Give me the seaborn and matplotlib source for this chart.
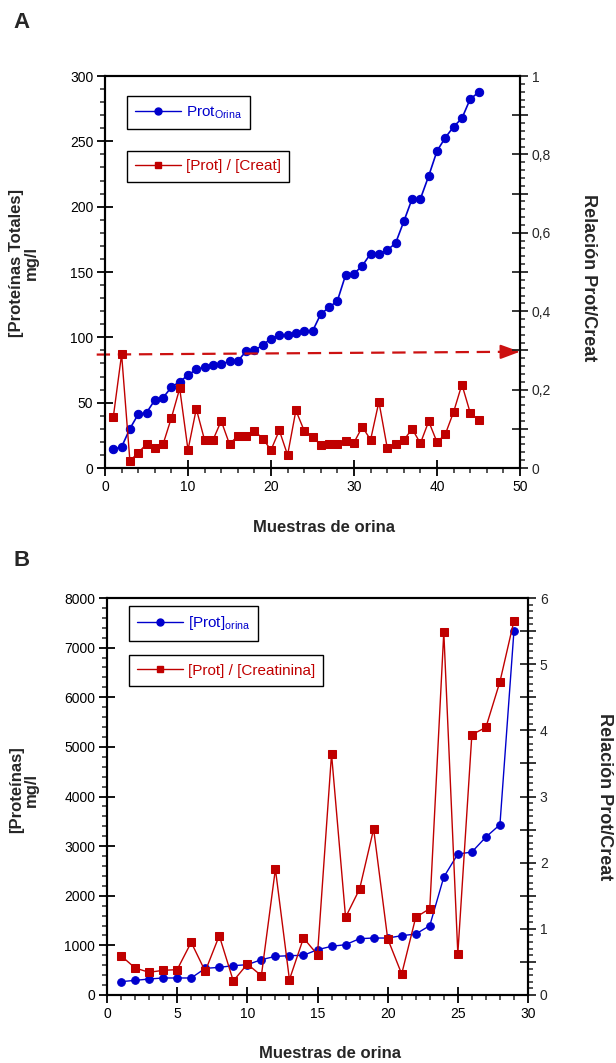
import matplotlib

matplotlib.use("Agg")
import matplotlib.pyplot as plt
import seaborn as sns
from matplotlib.lines import Line2D
from matplotlib.ticker import FuncFormatter, MultipleLocator

sns.set_style("ticks")
plt.rcParams["font.family"] = ["Liberation Sans", "DejaVu Sans"]
plt.rcParams["mathtext.default"] = "regular"

BLUE = "#0000cc"
RED = "#c00000"

# Panel A: total protein (mg/l) and protein/creatinine ratio, 45 samples
samples_a = list(range(1, 46))
prot_a = [14.4, 16.1, 30.1, 41.1, 42.3, 52.0, 53.8, 61.9, 66.0, 71.1,
          75.4, 77.2, 78.7, 79.3, 81.8, 81.8, 89.4, 90.0, 94.0, 99.1,
          101.6, 101.6, 103.4, 104.7, 104.7, 117.9, 122.9, 128.0, 147.9, 148.7,
          154.8, 164.0, 164.0, 166.8, 171.9, 188.7, 206.0, 206.0, 223.5, 242.6,
          252.8, 261.2, 267.6, 282.4, 287.4]
ratio_a = [0.130, 0.290, 0.018, 0.039, 0.061, 0.050, 0.061, 0.128, 0.203, 0.046,
           0.151, 0.071, 0.071, 0.120, 0.061, 0.082, 0.082, 0.095, 0.075, 0.046,
           0.096, 0.033, 0.147, 0.095, 0.080, 0.058, 0.061, 0.061, 0.069, 0.065,
           0.105, 0.072, 0.169, 0.052, 0.061, 0.071, 0.100, 0.063, 0.119, 0.066,
           0.086, 0.143, 0.213, 0.141, 0.122]
# dashed reference line (left-axis units) from start to arrow tip
ref_line_x = [-1, 50]
ref_line_y = [86.8, 89.0]

# Panel B: protein (mg/l) and protein/creatinine ratio, 29 samples
samples_b = list(range(1, 30))
prot_b = [269, 295, 322, 343, 343, 343, 537, 557, 591, 611,
          712, 779, 792, 800, 913, 981, 1014, 1135, 1148, 1148,
          1195, 1229, 1397, 2377, 2841, 2881, 3183, 3432, 7341]
ratio_b = [0.594, 0.408, 0.343, 0.373, 0.383, 0.796, 0.358, 0.897, 0.212, 0.468,
           0.292, 1.904, 0.232, 0.861, 0.610, 3.642, 1.174, 1.602, 2.509, 0.851,
           0.317, 1.174, 1.305, 5.485, 0.625, 3.934, 4.045, 4.735, 5.657]


def comma(v, _pos):
    s = f"{v:g}"
    return s.replace(".", ",")


def style_axes(ax, ax2):
    for a in (ax, ax2):
        for sp in a.spines.values():
            sp.set_linewidth(1.5)
            sp.set_color("black")
    ax.tick_params(axis="both", which="major", direction="inout", length=11,
                   width=1.3, labelsize=10, pad=3, colors="black")
    ax.tick_params(axis="both", which="minor", direction="out", length=3.5, width=1.1)
    ax.tick_params(top=False, right=False, which="both")
    ax2.tick_params(axis="y", which="major", direction="inout", length=11,
                    width=1.3, labelsize=10, pad=3)
    ax2.tick_params(axis="y", which="minor", direction="out", length=3.5, width=1.1)


def add_legends(ax2, prot_label, ratio_label, y1, y2, x0):
    h_prot = Line2D([], [], color=BLUE, marker="o", markersize=5, lw=1)
    h_ratio = Line2D([], [], color=RED, marker="s", markersize=5, lw=1)
    common = dict(loc="upper left", frameon=True, fancybox=False, borderaxespad=0,
                  handlelength=3.0, handletextpad=0.3, fontsize=11,
                  labelcolor="linecolor", edgecolor="black", framealpha=1,
                  borderpad=0.55)
    leg1 = ax2.legend(handles=[h_prot], labels=[prot_label],
                      bbox_to_anchor=(x0, y1), **common)
    leg1.get_frame().set_linewidth(1.0)
    ax2.add_artist(leg1)
    leg2 = ax2.legend(handles=[h_ratio], labels=[ratio_label],
                      bbox_to_anchor=(x0, y2), **common)
    leg2.get_frame().set_linewidth(1.0)


fig = plt.figure(figsize=(6.16, 10.63), dpi=100)

# ---------- Panel A ----------
ax = fig.add_axes([105 / 616, 1 - 468 / 1063, 415 / 616, 392 / 1063])
ax2 = ax.twinx()
sns.lineplot(x=samples_a, y=prot_a, ax=ax, color=BLUE, marker="o", markersize=6,
             markeredgecolor=BLUE, linewidth=1.2)
sns.lineplot(x=samples_a, y=ratio_a, ax=ax2, color=RED, marker="s", markersize=5.8,
             markeredgecolor=RED, linewidth=1.0)
ax.plot(ref_line_x[0:1] + [ref_line_x[1] - 2.2], [ref_line_y[0], ref_line_y[1] - 0.1],
        color="#cc1111", lw=1.6, ls=(0, (6, 3.5)), clip_on=False, zorder=5)
ax.annotate("", xy=(ref_line_x[1], ref_line_y[1]),
            xytext=(ref_line_x[1] - 2.4, ref_line_y[1] - 0.1),
            arrowprops=dict(arrowstyle="-|>,head_length=0.6,head_width=0.22",
                            mutation_scale=20, color="#cc1111", lw=1.4,
                            shrinkA=0, shrinkB=0), annotation_clip=False)
ax.set_xlim(0, 50)
ax.set_ylim(0, 300)
ax2.set_ylim(0, 1)
ax.xaxis.set_major_locator(MultipleLocator(10))
ax.xaxis.set_minor_locator(MultipleLocator(2))
ax.yaxis.set_major_locator(MultipleLocator(50))
ax.yaxis.set_minor_locator(MultipleLocator(10))
ax2.yaxis.set_major_locator(MultipleLocator(0.1))
ax2.yaxis.set_minor_locator(MultipleLocator(0.02))
ax2.yaxis.set_major_formatter(
    FuncFormatter(lambda v, p: comma(v, p) if round(v * 10) % 2 == 0 else ""))
ax.set_xlabel("")
ax.set_ylabel("")
ax2.set_ylabel("")
style_axes(ax, ax2)
add_legends(ax2, "Prot$_{Orina}$", "[Prot] / [Creat]", 0.949, 0.809, 0.053)

fig.text(22 / 616, 1 - 22.5 / 1063, "A", fontsize=16, fontweight="bold",
         ha="center", va="center")
fig.text(24 / 616, 1 - 263 / 1063, "[Proteínas Totales]\nmg/l", fontsize=12,
         fontweight="bold", rotation=90, ha="center", va="center", linespacing=1.0)
fig.text(588 / 616, 1 - 278 / 1063, "Relación Prot/Creat", fontsize=13,
         fontweight="bold", rotation=-90, ha="center", va="center")
fig.text(324 / 616, 1 - 527 / 1063, "Muestras de orina", fontsize=12,
         fontweight="bold", ha="center", va="center")

# ---------- Panel B ----------
bx = fig.add_axes([107 / 616, 1 - 995 / 1063, 421 / 616, 397 / 1063])
bx2 = bx.twinx()
sns.lineplot(x=samples_b, y=prot_b, ax=bx, color=BLUE, marker="o", markersize=5.5,
             markeredgecolor=BLUE, linewidth=1.0)
sns.lineplot(x=samples_b, y=ratio_b, ax=bx2, color=RED, marker="s", markersize=6,
             markeredgecolor=RED, linewidth=1.0)
bx.set_xlim(0, 30)
bx.set_ylim(0, 8000)
bx2.set_ylim(0, 6)
bx.xaxis.set_major_locator(MultipleLocator(5))
bx.xaxis.set_minor_locator(MultipleLocator(1))
bx.yaxis.set_major_locator(MultipleLocator(1000))
bx.yaxis.set_minor_locator(MultipleLocator(200))
bx2.yaxis.set_major_locator(MultipleLocator(0.5))
bx2.yaxis.set_minor_locator(MultipleLocator(0.1))
bx2.yaxis.set_major_formatter(
    FuncFormatter(lambda v, p: f"{v:g}" if round(v * 2) % 2 == 0 else ""))
bx.set_xlabel("")
bx.set_ylabel("")
bx2.set_ylabel("")
style_axes(bx, bx2)
add_legends(bx2, "[Prot]$_{orina}$", "[Prot] / [Creatinina]", 0.98, 0.856, 0.052)

fig.text(22 / 616, 1 - 560 / 1063, "B", fontsize=16, fontweight="bold",
         ha="center", va="center")
fig.text(24 / 616, 1 - 790 / 1063, "[Proteínas]\nmg/l", fontsize=12,
         fontweight="bold", rotation=90, ha="center", va="center", linespacing=1.0)
fig.text(604 / 616, 1 - 797 / 1063, "Relación Prot/Creat", fontsize=13,
         fontweight="bold", rotation=-90, ha="center", va="center")
fig.text(330 / 616, 1 - 1053 / 1063, "Muestras de orina", fontsize=12,
         fontweight="bold", ha="center", va="center")

fig.savefig("out.png", dpi=100)
